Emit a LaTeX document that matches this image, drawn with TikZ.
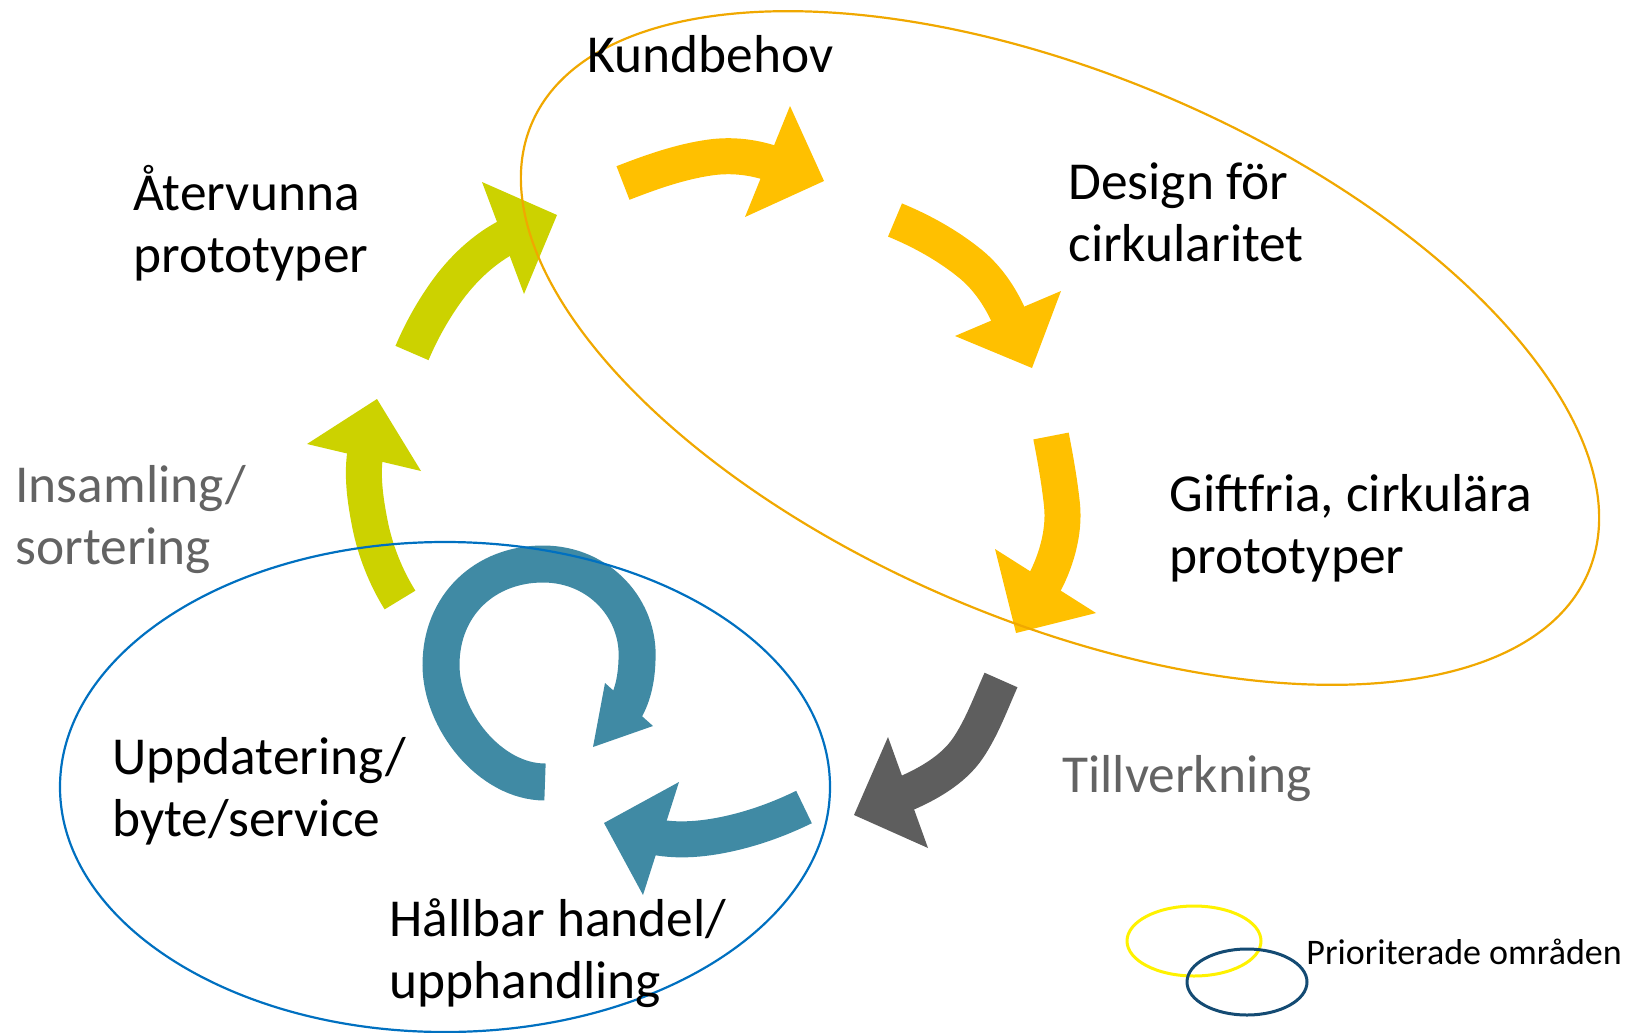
\documentclass[tikz,border=0pt]{standalone}
\usepackage{fontspec}
\setmainfont{Carlito}
\usepackage{tikz}
\definecolor{kgold}{RGB}{255,192,0}
\definecolor{klime}{RGB}{204,210,0}
\definecolor{kteal}{RGB}{64,138,164}
\definecolor{kdark}{RGB}{94,94,94}
\definecolor{korange}{RGB}{240,168,0}
\definecolor{kblue}{RGB}{0,112,192}
\definecolor{knavy}{RGB}{20,75,115}
\definecolor{kgraytext}{RGB}{99,99,99}
\tikzstyle{lbl}=[
  anchor=base west,inner sep=0pt,align=left,font=\fontsize{26.7}{31}\selectfont
]
\tikzstyle{glbl}=[
  lbl,text=kgraytext
]
\tikzstyle{shaft}=[
  line width=18pt
]
\tikzstyle{area}=[
  line width=1.1pt
]
\begin{document}
\begin{tikzpicture}[x=0.5pt,y=-0.5pt]
    \useasboundingbox (0,0) rectangle (1628,1033);
    % arrows: tail, end of shaft, head (left corner, tip, right corner)
    \coordinate (k0) at (623,183);   \coordinate (ke) at (775,164.5);
    \coordinate (kl) at (790,106);   \coordinate (k1) at (824,181);   \coordinate (kr) at (745,217);
    \coordinate (d0) at (895,220);   \coordinate (de) at (1011,321);
    \coordinate (dl) at (1061,291);  \coordinate (d1) at (1032,368);  \coordinate (dr) at (955,336);
    \coordinate (g0) at (1051,436);  \coordinate (ge) at (1041.5,588.3);
    \coordinate (gl) at (1096,613);  \coordinate (g1) at (1016,633);  \coordinate (gr) at (995,549);
    \coordinate (t0) at (1001,680);  \coordinate (te) at (901,795.5);
    \coordinate (tl) at (928,848);   \coordinate (t1) at (854,815);   \coordinate (tr) at (888,737);
    \coordinate (h0) at (804,807);   \coordinate (he) at (653.6,836.6);
    \coordinate (hl) at (643,895);   \coordinate (h1) at (604,823);   \coordinate (hr) at (679,782);
    \coordinate (u0) at (545,782);   \coordinate (ue) at (625,709);
    \coordinate (ul) at (653,726);   \coordinate (u1) at (593,747);   \coordinate (ur) at (605,683);
    \coordinate (i0) at (400,600);   \coordinate (ie) at (365.8,449.7);
    \coordinate (il) at (307,444);   \coordinate (i1) at (377,399);   \coordinate (ir) at (421,471);
    \coordinate (a0) at (412,353);   \coordinate (ae) at (510.6,235.1);
    \coordinate (al) at (482,182);   \coordinate (a1) at (557,215);   \coordinate (ar) at (524,294);
    \draw [shaft,kgold] (k0) .. controls (650.9,172.1) and (680.3,161.7) .. (710,157.5)
      .. controls (731.8,154.4) and (754.2,157) .. (ke);
    \fill [kgold] (kl) -- (k1) -- (kr) -- cycle;
    \draw [shaft,kgold] (d0) .. controls (921.7,231) and (947.5,245.3) .. (970,263.5)
      .. controls (988.6,278.6) and (1001.6,298.8) .. (de);
    \fill [kgold] (dl) -- (d1) -- (dr) -- cycle;
    \draw [shaft,kgold] (g0) .. controls (1055.4,458.5) and (1059.6,482.1) .. (1062,505)
      .. controls (1064.9,532.8) and (1055.5,564.1) .. (ge);
    \fill [kgold] (gl) -- (g1) -- (gr) -- cycle;
    \draw [shaft,kdark] (t0) .. controls (990.8,702.8) and (982,727.3) .. (968,748)
      .. controls (952.9,770.4) and (926,785.2) .. (te);
    \fill [kdark] (tl) -- (t1) -- (tr) -- cycle;
    \draw [shaft,kteal] (h0) .. controls (784.2,816.7) and (763.2,824.8) .. (741.9,830.5)
      .. controls (713.9,838) and (682,842.6) .. (he);
    \fill [kteal] (hl) -- (h1) -- (hr) -- cycle;
    \draw [shaft,kteal,line width=18.5pt] (u0) .. controls +(-55,0) and +(0,55) .. (441,665)
      .. controls +(0,-60) and +(-58,0) .. (543,564)
      .. controls +(57,0) and +(3,-50) .. (637,660)
      .. controls +(-0.5,18) and +(8,-13.9) .. (ue);
    \fill [kteal] (ul) -- (u1) -- (ur) -- cycle;
    \draw [shaft,klime] (i0) .. controls (385.7,577.1) and (375.1,550.3) .. (369.9,523.8)
      .. controls (365.1,499.3) and (361.5,474.3) .. (ie);
    \fill [klime] (il) -- (i1) -- (ir) -- cycle;
    \draw [shaft,klime] (a0) .. controls (421,331.8) and (431.8,312.3) .. (445,293.5)
      .. controls (461.6,269.8) and (484.5,247.8) .. (ae);
    \fill [klime] (al) -- (a1) -- (ar) -- cycle;
    % areas
    \draw [area,korange,rotate around={-23:(1060,348)}] (1060,348) ellipse (574 and 273);
    \draw [area,kblue] (445,787) ellipse (385 and 245);
    \draw [area,yellow,line width=1.5pt] (1194,941) ellipse (67 and 35);
    \draw [area,knavy,line width=1.5pt] (1247,982) ellipse (60 and 33);
    % labels
    \node (kund) at (587,72) [lbl] {Kundbehov};
    \node (design) at (1068,261) [lbl] {Design för\\cirkularitet};
    \node (gift) at (1169,573) [lbl] {Giftfria, cirkulära\\prototyper};
    \node (till) at (1062,792) [glbl] {Tillverkning};
    \node (hall) at (389,998) [lbl] {Hållbar handel/\\upphandling};
    \node (uppd) at (112,836) [lbl] {Uppdatering/\\byte/service};
    \node (insam) at (15,564) [glbl] {Insamling/\\sortering};
    \node (ater) at (133,272) [lbl] {Återvunna\\prototyper};
    \node (prio) at (1306,964) [lbl,font=\fontsize{18}{22}\selectfont] {Prioriterade områden};
  \end{tikzpicture}
\end{document}
